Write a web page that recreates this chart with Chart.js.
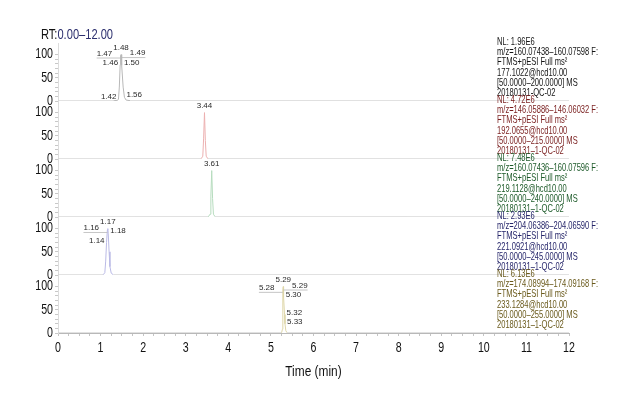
<!DOCTYPE html>
<html><head><meta charset="utf-8">
<script src="https://cdn.jsdelivr.net/npm/chart.js@4/dist/chart.umd.min.js"></script>
<style>html,body{margin:0;padding:0;background:#fff}#wrap{width:630px;height:405px;position:relative}</style>
</head><body><div id="wrap"><canvas id="c" width="630" height="405"></canvas></div>
<script>
// ---- data ----
const xTickLabels = [0,1,2,3,4,5,6,7,8,9,10,11,12];
const yTickLabels = [0,50,100];
const rtRangeText = '0.00–12.00';
const xTitle = 'Time (min)';

const p1Time = [0, 1.30, 1.40, 1.42, 1.44, 1.46, 1.47, 1.48, 1.49, 1.50, 1.53, 1.56, 1.60, 1.70, 12];
const p1Int  = [0.4, 0.5, 1.5, 4, 30, 78, 98, 100, 99, 77, 30, 8, 2, 0.6, 0.4];
const p1Labels = [1.42, 1.46, 1.47, 1.48, 1.49, 1.50, 1.56];
const p1Info = ['NL: 1.96E6','m/z=160.07438–160.07598 F:','FTMS+pESI Full ms²','177.1022@hcd10.00','[50.0000–200.0000] MS','20180131-QC-02'];

const p2Time = [0, 3.36, 3.40, 3.42, 3.44, 3.46, 3.48, 3.52, 12];
const p2Int  = [0.4, 0.5, 6, 45, 100, 40, 6, 0.5, 0.4];
const p2Labels = [3.44];
const p2Info = ['NL: 4.72E6','m/z=146.05886–146.06032 F:','FTMS+pESI Full ms²','192.0655@hcd10.00','[50.0000–215.0000] MS','20180131–1-QC-02'];

const p3Time = [0, 3.53, 3.57, 3.59, 3.61, 3.63, 3.65, 3.69, 12];
const p3Int  = [0.4, 0.5, 6, 45, 100, 40, 6, 0.5, 0.4];
const p3Labels = [3.61];
const p3Info = ['NL: 7.48E6','m/z=160.07436–160.07596 F:','FTMS+pESI Full ms²','219.1128@hcd10.00','[50.0000–240.0000] MS','20180131–1-QC-02'];

const p4Time = [0, 1.06, 1.10, 1.12, 1.14, 1.16, 1.17, 1.18, 1.20, 1.22, 1.25, 1.30, 12];
const p4Int  = [0.4, 0.5, 5, 30, 70, 97, 100, 90, 50, 18, 4, 0.5, 0.4];
const p4Labels = [1.14, 1.16, 1.17, 1.18];
const p4Info = ['NL: 2.93E6','m/z=204.06386–204.06590 F:','FTMS+pESI Full ms²','221.0921@hcd10.00','[50.0000–245.0000] MS','20180131–1-QC-02'];

const p5Time = [0, 5.25, 5.27, 5.28, 5.29, 5.294, 5.30, 5.32, 5.33, 5.35, 5.38, 12];
const p5Int  = [0.4, 0.5, 8, 93, 100, 98, 78, 40, 20, 5, 0.5, 0.4];
const p5Labels = [5.28, 5.29, 5.294, 5.30, 5.32, 5.33];
const p5Info = ['NL: 6.13E6','m/z=174.08994–174.09168 F:','FTMS+pESI Full ms²','233.1284@hcd10.00','[50.0000–255.0000] MS','20180131–1-QC-02'];

// ---- styling ----
const SANS = '"Liberation Sans", Arial, sans-serif';
const panels = [
  {time:p1Time, inten:p1Int, labels:p1Labels, info:p1Info, line:'#b8b8b8', text:'#151515'},
  {time:p2Time, inten:p2Int, labels:p2Labels, info:p2Info, line:'#ecb0b0', text:'#7a1f1f'},
  {time:p3Time, inten:p3Int, labels:p3Labels, info:p3Info, line:'#b6dcbe', text:'#1e5b2a'},
  {time:p4Time, inten:p4Int, labels:p4Labels, info:p4Info, line:'#babae6', text:'#26266a'},
  {time:p5Time, inten:p5Int, labels:p5Labels, info:p5Info, line:'#ded6a8', text:'#6b5b1d'}
];
const BASELINE_COLOR = '#d6d6d6';

const scales = {
  x: {
    type:'linear', position:'bottom', min:0, max:12,
    border:{color:'#b8b8b8'},
    grid:{drawOnChartArea:false, tickLength:3, color:'#c4c4c4'},
    ticks:{stepSize:0.25, autoSkip:false, maxRotation:0, maxTicksLimit:200, padding:4,
      font:{size:13}, callback:()=>''},
    title:{display:false},
    afterFit:(s)=>{ s.height = 48; }
  }
};
panels.forEach((p,i)=>{
  scales['y'+i] = {
    type:'linear', position:'left', stack:'panels', stackWeight:1, weight:10-i,
    min:0, max:125, offset:false,
    border:{color:'#dcdcdc'},
    grid:{drawOnChartArea:false, tickLength:3, color:'#c8c8c8'},
    ticks:{padding:3, autoSkip:false, callback:()=>''},
    afterBuildTicks:(s)=>{ s.ticks = [0,10,20,30,40,50,60,70,80,90,100].map(v=>({value:v})); },
    afterFit:(s)=>{ s.width = 58; }
  };
});

const datasets = panels.map((p,i)=>({
  label:'panel'+(i+1),
  data: p.time.map((t,k)=>({x:t, y:p.inten[k]})),
  xAxisID:'x', yAxisID:'y'+i,
  borderColor:p.line, borderWidth:1, pointRadius:0, tension:0, fill:false,
  segment:{ borderColor:(c)=> (c.p0.parsed.y < 1 && c.p1.parsed.y < 1) ? BASELINE_COLOR : undefined }
}));

function overlap(a,b,pad){
  return a.x < b.x + b.w + pad && b.x < a.x + a.w + pad &&
         a.y < b.y + b.h + pad && b.y < a.y + a.h + pad;
}
function narrowText(ctx, txt, x, y, align, sx){
  ctx.save();
  ctx.translate(x, y);
  ctx.scale(sx, 1);
  ctx.textAlign = align;
  ctx.fillText(txt, 0, 0);
  ctx.restore();
}

const annotatePlugin = {
  id:'annot',
  afterDatasetsDraw(chart){
    const ctx = chart.ctx, xs = chart.scales.x, ca = chart.chartArea;
    ctx.save();
    ctx.textBaseline = 'middle';
    // axis tick labels
    ctx.fillStyle = '#111';
    ctx.font = '14px ' + SANS;
    xTickLabels.forEach(v=> narrowText(ctx, String(v), xs.getPixelForValue(v), xs.top + 15, 'center', 0.76));
    panels.forEach((p,i)=>{
      const ys = chart.scales['y'+i];
      yTickLabels.forEach(v=> narrowText(ctx, String(v), ys.right - 5, ys.getPixelForValue(v), 'right', 0.76));
    });
    ctx.font = '14px ' + SANS;
    narrowText(ctx, xTitle, (ca.left + ca.right)/2, xs.top + 39, 'center', 0.85);

    // peak labels
    ctx.font = '8px ' + SANS;
    ctx.textAlign = 'left';
    panels.forEach((p,i)=>{
      const ys = chart.scales['y'+i];
      const maxV = Math.max(...p.inten);
      const apexT = p.time[p.inten.indexOf(maxV)];
      const placed = [];
      const order = p.labels.slice().sort((a,b)=>Math.abs(a-apexT)-Math.abs(b-apexT) || a-b);
      order.forEach(t=>{
        const v = p.inten[p.time.indexOf(t)];
        const px = xs.getPixelForValue(t), py = ys.getPixelForValue(v);
        const txt = t.toFixed(2);
        const w = ctx.measureText(txt).width, h = 8;
        let box;
        if (t === apexT) box = {x:px - w/2, y:py - 3 - h, w, h, side:0};
        else if (t < apexT) box = {x:px - 2 - w, y:py - 2 - h/2, w, h, side:-1};
        else box = {x:px + 2, y:py - 2 - h/2, w, h, side:1};
        let shifted = false;
        for (let g=0; g<10 && box.side!==0; g++){
          const hit = placed.find(b=>overlap(b, box, 1));
          if (!hit) break;
          box.x = box.side < 0 ? hit.x - 1 - box.w : hit.x + hit.w + 1;
          shifted = true;
        }
        if (shifted){
          ctx.strokeStyle = '#b8b8b8'; ctx.lineWidth = 0.8;
          ctx.beginPath();
          const ly = box.y + h + 0.5;
          if (box.side < 0){ ctx.moveTo(box.x, ly); ctx.lineTo(px, ly); }
          else { ctx.moveTo(px, ly); ctx.lineTo(box.x + box.w, ly); }
          ctx.stroke();
        }
        ctx.fillStyle = '#2a2a2a';
        ctx.fillText(txt, box.x, box.y + h/2);
        placed.push(box);
      });
    });
    // right info blocks
    ctx.font = '10.5px ' + SANS;
    const tx = ca.right - 72;
    panels.forEach((p,i)=>{
      const ys = chart.scales['y'+i];
      ctx.fillStyle = p.text;
      p.info.forEach((line,k)=> narrowText(ctx, line, tx, ys.top - 1 + k*10.3, 'left', 0.72));
    });
    // RT header
    ctx.font = '15px ' + SANS;
    ctx.fillStyle = '#111';
    const rt = 'RT:';
    narrowText(ctx, rt, 41, 35, 'left', 0.74);
    const rtw = ctx.measureText(rt).width * 0.74;
    ctx.fillStyle = '#2c2f6e';
    narrowText(ctx, rtRangeText, 41 + rtw, 35, 'left', 0.74);
    ctx.restore();
  }
};

new Chart(document.getElementById('c'), {
  type:'line',
  data:{datasets},
  options:{
    responsive:false, animation:false, devicePixelRatio:1,
    layout:{padding:{top:43, left:0, right:61, bottom:24}},
    plugins:{legend:{display:false}, tooltip:{enabled:false}, title:{display:false}},
    scales
  },
  plugins:[annotatePlugin]
});
</script>
</body></html>
